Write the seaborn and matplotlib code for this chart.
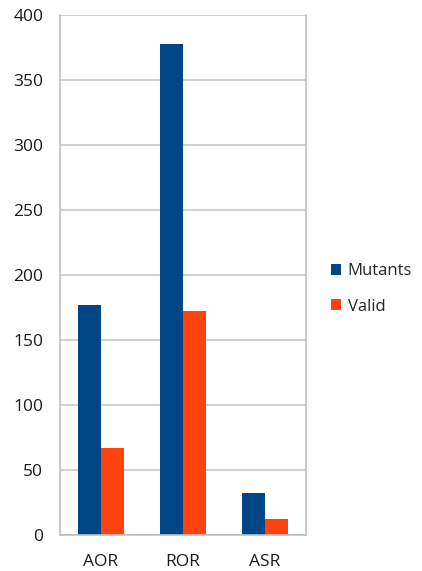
import matplotlib
matplotlib.use('Agg')
import matplotlib.pyplot as plt
import pandas as pd
import seaborn as sns

categories = ["AOR", "ROR", "ASR"]
mutants = [177, 378, 32]
valid = [67, 172, 12]
series_names = ["Mutants", "Valid"]
colors = ["#004586", "#ff420e"]

df = pd.DataFrame({
    "operator": categories * 2,
    "series": [series_names[0]] * 3 + [series_names[1]] * 3,
    "count": mutants + valid,
})

sns.set_style("white")
plt.rcParams['font.family'] = ['Open Sans', 'DejaVu Sans']

fig = plt.figure(figsize=(4.22, 5.71), dpi=100)
ax = fig.add_axes([60 / 422, 36 / 571, 246 / 422, 520 / 571])

sns.barplot(data=df, x="operator", y="count", hue="series",
            palette=colors, width=0.57, gap=0, saturation=1,
            edgecolor="none", ax=ax)

ax.set_ylim(0, 400)
ax.set_xlim(-0.5, 2.5)
ax.set_yticks(range(0, 401, 50))
ax.yaxis.grid(True, color="#c8c8c8", linewidth=1.2)
ax.set_axisbelow(True)
ax.set_xlabel("")
ax.set_ylabel("")
ax.tick_params(axis="both", length=0, labelsize=12.5, colors="#1a1a1a")
ax.tick_params(axis="y", pad=12)
ax.tick_params(axis="x", pad=14)
for side in ["left", "right", "bottom"]:
    ax.spines[side].set_color("#c0c0c0")
    ax.spines[side].set_linewidth(1.2)
ax.spines["top"].set_visible(False)

handles, labels = ax.get_legend_handles_labels()
ax.legend(handles, labels, loc="center left", bbox_to_anchor=(1.04, 0.473),
          frameon=False, fontsize=12, handlelength=0.6, handleheight=0.6,
          handletextpad=0.4, labelspacing=1.15)

fig.savefig("out.png", dpi=100)
